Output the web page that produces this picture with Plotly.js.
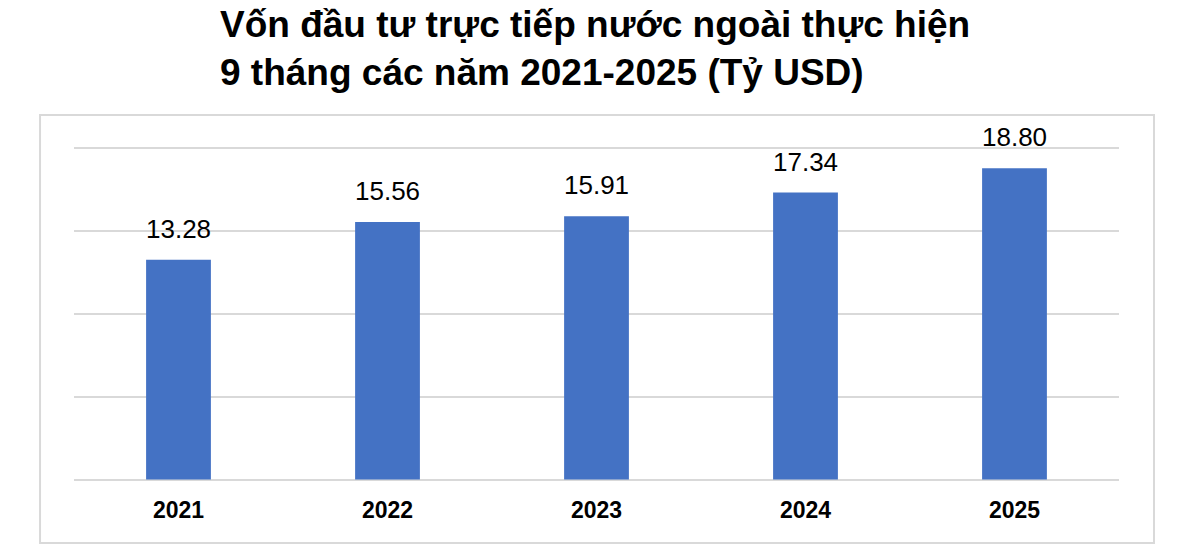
<!DOCTYPE html>
<html>
<head>
<meta charset="utf-8">
<script src="https://cdn.plot.ly/plotly-3.0.1.min.js"></script>
<style>
  html, body { margin: 0; padding: 0; background: #fff; }
  #chart { width: 1200px; height: 557px; }
</style>
</head>
<body>
<div id="chart"></div>
<script>
// du lieu doc tu hinh
var nam = ['2021', '2022', '2023', '2024', '2025'];
var von = [13.28, 15.56, 15.91, 17.34, 18.80];
var nhan = ['13.28', '15.56', '15.91', '17.34', '18.80'];

var tieuDe = 'Vốn đầu tư trực tiếp nước ngoài thực hiện<br>9 tháng các năm 2021-2025 (Tỷ USD)';

var trace = {
  x: nam,
  y: von,
  type: 'bar',
  marker: { color: '#4472C4' },
  hoverinfo: 'none'
};

// nhan gia tri tren cot (x theo chi so cua hang muc)
var chuThich = nam.map(function (n, i) {
  return {
    x: i, y: von[i], xref: 'x', yref: 'y',
    text: nhan[i], showarrow: false,
    yanchor: 'bottom', yshift: 14,
    font: { family: 'Liberation Sans, Arial', size: 26, color: '#000' }
  };
});

var layout = {
  width: 1200,
  height: 557,
  margin: { l: 74, r: 81, t: 146, b: 75 },
  paper_bgcolor: '#fff',
  plot_bgcolor: '#fff',
  bargap: 0.69,
  showlegend: false,
  title: {
    text: tieuDe,
    xref: 'container', yref: 'container',
    x: 220 / 1200, xanchor: 'left',
    y: 0.933, yanchor: 'top',
    font: { family: 'Liberation Sans, Arial', size: 37, color: '#000', weight: 'bold' }
  },
  xaxis: {
    type: 'category',
    range: [-0.5, 4.5],
    showgrid: false,
    showline: false,
    zeroline: false,
    ticks: '',
    ticklabelstandoff: 12,
    tickfont: { family: 'Liberation Sans, Arial', size: 23, color: '#000', weight: 'bold' }
  },
  yaxis: {
    // rong hon 0-20 mot chut de luoi o 0 va 20 khong bi an o mep
    range: [-0.15, 20.15],
    tickvals: [0, 5, 10, 15, 20],
    showticklabels: false,
    showgrid: true,
    gridcolor: '#d9d9d9',
    gridwidth: 2,
    zeroline: false,
    showline: false,
    ticks: ''
  },
  annotations: chuThich,
  shapes: [{
    type: 'rect', xref: 'paper', yref: 'paper',
    x0: -0.0325, x1: 1.0335, y0: -0.1815, y1: 1.0923,
    line: { color: '#d9d9d9', width: 2 },
    layer: 'below'
  }]
};

Plotly.newPlot('chart', [trace], layout, { staticPlot: true });
</script>
</body>
</html>
